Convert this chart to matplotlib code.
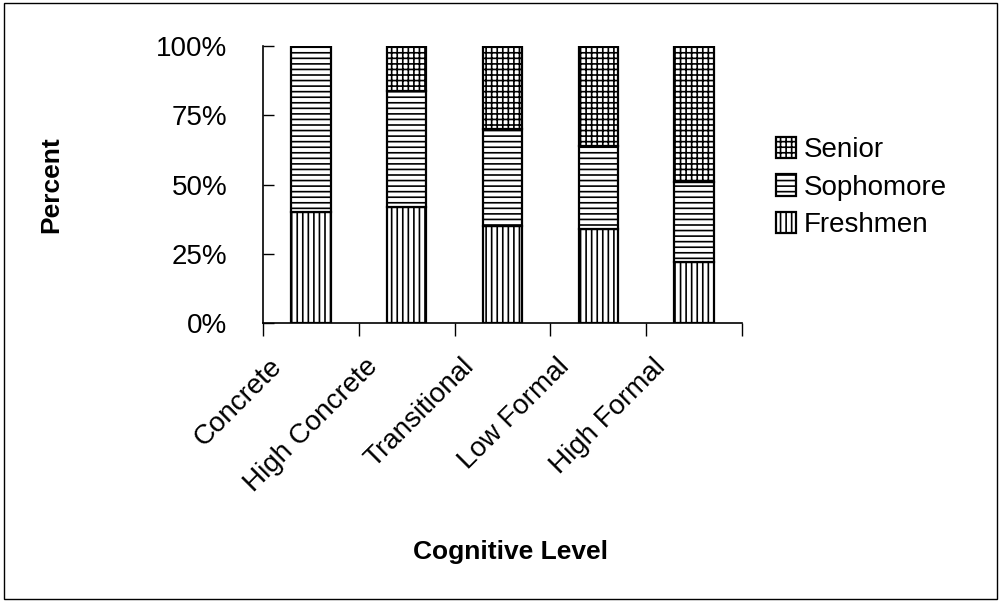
import matplotlib.pyplot as plt
import matplotlib.transforms as mtransforms
from matplotlib.patches import Rectangle
import numpy as np

levels = ['Concrete', 'High Concrete', 'Transitional', 'Low Formal', 'High Formal']
freshmen = [40, 42, 35, 34, 22]
sophomore = [60, 42, 35, 30, 29]
senior = [0, 16, 30, 36, 49]

plt.rcParams['font.family'] = ['Liberation Sans', 'DejaVu Sans']
plt.rcParams['hatch.linewidth'] = 1.2

fig = plt.figure(figsize=(10.01, 6.01), dpi=100)
ax = fig.add_axes([0.263, 0.4626, 0.478, 0.4604])

x = np.arange(len(levels))
w = 0.41
kw = dict(width=w, color='white', edgecolor='black', linewidth=1.6)
b1 = ax.bar(x, freshmen, hatch='|||', label='Freshmen', **kw)
b2 = ax.bar(x, sophomore, bottom=freshmen, hatch='---', label='Sophomore', **kw)
bottom2 = np.array(freshmen) + np.array(sophomore)
b3 = ax.bar(x, senior, bottom=bottom2, hatch='+++', label='Senior', **kw)

ax.set_xlim(-0.5, 4.5)
ax.set_ylim(0, 100)
ax.set_yticks([0, 25, 50, 75, 100])
ax.set_yticklabels(['0%', '25%', '50%', '75%', '100%'], fontsize=20)
ax.tick_params(axis='y', direction='in', length=8, width=1, pad=26)

ax.set_xticks(x)
ax.set_xticklabels(levels, fontsize=20, rotation=45, ha='right', va='top',
                   rotation_mode='anchor')
ax.tick_params(axis='x', which='major', length=0, pad=22)
ax.set_xticks(np.arange(-0.5, 5, 1), minor=True)
ax.tick_params(axis='x', which='minor', direction='out', length=9, width=1)
off = mtransforms.ScaledTranslation(-0.42, 0, fig.dpi_scale_trans)
for lab in ax.get_xticklabels():
    lab.set_transform(lab.get_transform() + off)

for s in ['top', 'right']:
    ax.spines[s].set_visible(False)
ax.spines['left'].set_linewidth(1.2)
ax.spines['bottom'].set_linewidth(1.2)

ax.set_ylabel('Percent', fontsize=19, fontweight='bold')
ax.yaxis.set_label_coords(-0.418, 0.5)
fig.text(0.51, 0.082, 'Cognitive Level', fontsize=19, fontweight='bold',
         ha='center', va='center')

ax.legend([b3, b2, b1], ['Senior', 'Sophomore', 'Freshmen'], frameon=False,
          fontsize=20, loc='center left', bbox_to_anchor=(1.03, 0.49),
          handlelength=0.75, handleheight=0.8, handletextpad=0.25,
          labelspacing=0.4, borderaxespad=0.3)

fig.patches.append(Rectangle((0.004, 0.003), 0.992, 0.992, transform=fig.transFigure,
                             fill=False, edgecolor='black', linewidth=1))

fig.savefig('out.png', dpi=100)
